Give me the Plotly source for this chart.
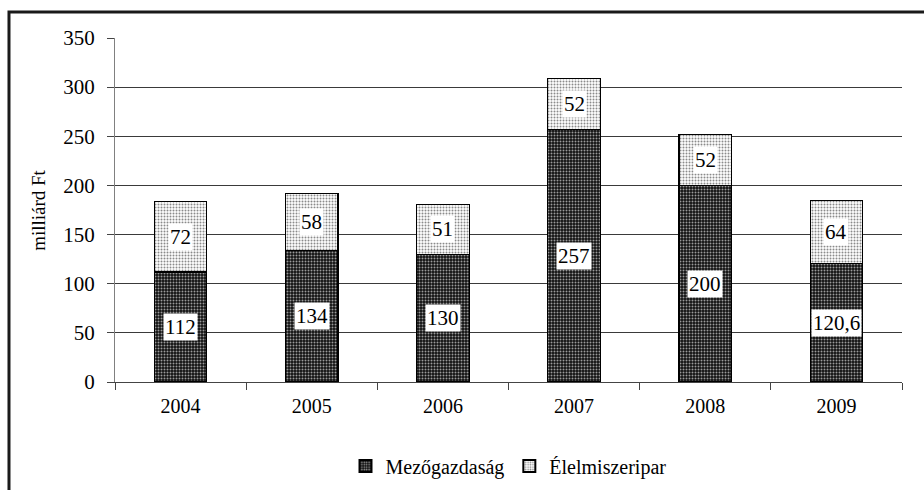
import plotly.graph_objects as go

years = ["2004", "2005", "2006", "2007", "2008", "2009"]
mezogazdasag = [112, 134, 130, 257, 200, 120.6]
elelmiszeripar = [72, 58, 51, 52, 52, 64]
mezo_labels = ["112", "134", "130", "257", "200", "120,6"]
elel_labels = ["72", "58", "51", "52", "52", "64"]
y_ticks = [0, 50, 100, 150, 200, 250, 300, 350]

FONT = "Liberation Serif"

fig = go.Figure()
fig.add_trace(go.Bar(
    x=years, y=mezogazdasag, name="Mezőgazdaság",
    marker=dict(color="#111111", line=dict(color="black", width=1.2),
                pattern=dict(shape=".", bgcolor="#111111", fgcolor="#9a9a9a",
                             size=3, solidity=0.35, fillmode="replace")),
))
fig.add_trace(go.Bar(
    x=years, y=elelmiszeripar, name="Élelmiszeripar",
    marker=dict(color="white", line=dict(color="black", width=1.2),
                pattern=dict(shape=".", bgcolor="white", fgcolor="#8a8a8a",
                             size=3, solidity=0.35, fillmode="replace")),
))

annotations = []
for i, (a, b, la, lb) in enumerate(zip(mezogazdasag, elelmiszeripar, mezo_labels, elel_labels)):
    annotations.append(dict(x=i, y=a / 2, text=la, showarrow=False, xref="x", yref="y",
                            bgcolor="white", borderpad=1,
                            font=dict(family=FONT, size=21, color="black")))
    annotations.append(dict(x=i, y=a + b / 2, text=lb, showarrow=False, xref="x", yref="y",
                            bgcolor="white", borderpad=1,
                            font=dict(family=FONT, size=21, color="black")))
annotations.append(dict(x=-0.098, y=0.50, xref="paper", yref="paper", text="milliárd Ft",
                        textangle=-90, showarrow=False, xanchor="center", yanchor="middle",
                        font=dict(family=FONT, size=19, color="black")))

fig.update_layout(
    width=924, height=490,
    margin=dict(l=115, r=22, t=38, b=108, autoexpand=False),
    paper_bgcolor="white", plot_bgcolor="white",
    barmode="stack", bargap=0.6,
    font=dict(family=FONT, size=20, color="black"),
    showlegend=True,
    legend=dict(orientation="h", x=0.5, xanchor="center", y=-0.244, yanchor="middle",
                font=dict(family=FONT, size=20, color="black"),
                itemsizing="constant", traceorder="normal", itemwidth=30),
    annotations=annotations,
    shapes=[dict(type="rect", xref="paper", yref="paper",
                 x0=-0.1347, x1=1.04, y0=-0.36, y1=1.0756,
                 line=dict(color="#1a1a1a", width=3), layer="below")],
)
fig.update_xaxes(
    type="category", showline=True, linecolor="#444444", linewidth=1,
    ticks="outside", tickson="boundaries", ticklen=7, tickcolor="#444444",
    ticklabelstandoff=6,
    showgrid=False, automargin=False, tickfont=dict(family=FONT, size=20, color="black"),
)
fig.update_yaxes(
    range=[0, 350], tickvals=y_ticks, ticks="outside", ticklen=7, tickcolor="#444444",
    ticklabelstandoff=8,
    showline=True, linecolor="#808080", linewidth=1, automargin=False,
    showgrid=True, gridcolor="#3a3a3a", gridwidth=1, zeroline=False,
    tickfont=dict(family=FONT, size=21, color="black"),
)

fig.write_html("out.html", config={"displayModeBar": False},
               post_script="document.body.style.margin='0';document.body.style.overflow='hidden';")
